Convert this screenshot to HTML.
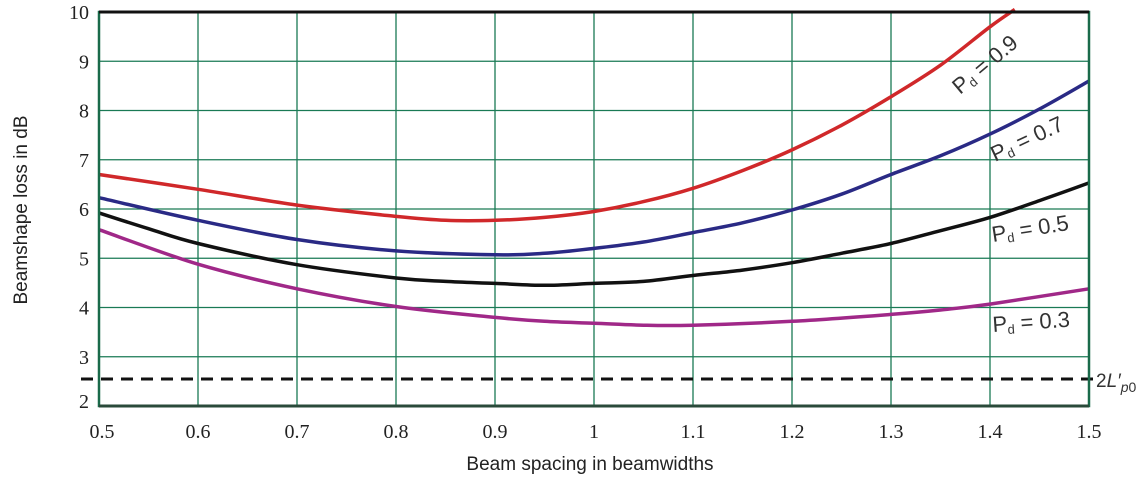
<!DOCTYPE html>
<html><head><meta charset="utf-8"><style>
html,body{margin:0;padding:0;background:#fff;width:1146px;height:478px;overflow:hidden}
</style></head><body>
<svg id="s" width="1146" height="478" xmlns="http://www.w3.org/2000/svg" font-family="Liberation Sans, sans-serif">
<g id="grid" stroke="#1a7a55" stroke-width="1.3"></g>
<line x1="81" y1="379" x2="1094" y2="379" stroke="#111" stroke-width="3" stroke-dasharray="12,8"/>
<g id="curves" fill="none" stroke-width="3.5" stroke-linejoin="round"></g>
<rect x="99" y="12" width="990" height="394" fill="none" stroke="#1a6a4a" stroke-width="2.5"/>
<line x1="99" y1="12" x2="1089" y2="12" stroke="#111" stroke-width="3"/>
<line x1="99" y1="406" x2="1089" y2="406" stroke="#2a4a3a" stroke-width="3"/>
<g id="ticks" font-family="Liberation Serif, serif" font-size="20" fill="#222"></g>
<g font-size="22" fill="#333">
<text transform="translate(960,95) rotate(-40)">P<tspan font-size="13" dy="3">d</tspan><tspan dy="-3"> = 0.9</tspan></text>
<text transform="translate(995,162) rotate(-25)">P<tspan font-size="13" dy="3">d</tspan><tspan dy="-3"> = 0.7</tspan></text>
<text transform="translate(993,242) rotate(-9)">P<tspan font-size="13" dy="3">d</tspan><tspan dy="-3"> = 0.5</tspan></text>
<text transform="translate(993,332) rotate(-4)">P<tspan font-size="13" dy="3">d</tspan><tspan dy="-3"> = 0.3</tspan></text>
<text x="1096" y="387" font-size="19">2<tspan font-style="italic">L′</tspan><tspan font-size="14" dy="5" font-style="italic">p</tspan><tspan font-size="14">0</tspan></text>
</g>
<text x="590" y="470" font-size="19" fill="#222" text-anchor="middle">Beam spacing in beamwidths</text>
<text transform="translate(27,210) rotate(-90)" font-size="19" fill="#222" text-anchor="middle">Beamshape loss in dB</text>
</svg>
<script>
var X=function(v){return 99+(v-0.5)*990},Y=function(v){return 12+(10-v)*49.25};
var ns="http://www.w3.org/2000/svg",g=document.getElementById('grid'),t=document.getElementById('ticks'),c=document.getElementById('curves');
function el(p,n,a,txt){var e=document.createElementNS(ns,n);for(var k in a)e.setAttribute(k,a[k]);if(txt)e.textContent=txt;p.appendChild(e);}
for(var i=0;i<=10;i++){var x=X(0.5+i/10);el(g,'line',{x1:x,y1:12,x2:x,y2:406});el(t,'text',{x:x+(i==0?3:0),y:438,'text-anchor':'middle'},(i==5?'1':i==10?'1.5':(0.5+i/10).toFixed(1)));}
for(var v=2;v<=10;v++){var y=Y(v);el(g,'line',{x1:99,y1:y,x2:1089,y2:y});el(t,'text',{x:89,y:y+(v==2?2:7),'text-anchor':'end'},String(v));}
var data={
'#d0282a':[[0.5,6.7],[0.6,6.4],[0.7,6.08],[0.8,5.85],[0.85,5.77],[0.9,5.77],[0.95,5.83],[1.0,5.95],[1.05,6.15],[1.1,6.42],[1.15,6.78],[1.2,7.2],[1.25,7.7],[1.3,8.28],[1.35,8.92],[1.4,9.7],[1.425,10.05]],
'#2a2a85':[[0.5,6.23],[0.6,5.77],[0.7,5.38],[0.8,5.15],[0.9,5.07],[0.95,5.1],[1.0,5.2],[1.05,5.33],[1.1,5.52],[1.15,5.72],[1.2,5.98],[1.25,6.3],[1.3,6.7],[1.35,7.08],[1.4,7.52],[1.45,8.03],[1.5,8.6]],
'#111111':[[0.5,5.92],[0.55,5.6],[0.6,5.3],[0.7,4.87],[0.8,4.6],[0.85,4.53],[0.9,4.49],[0.95,4.45],[1.0,4.49],[1.05,4.53],[1.1,4.65],[1.15,4.76],[1.2,4.91],[1.25,5.1],[1.3,5.3],[1.35,5.56],[1.4,5.83],[1.45,6.17],[1.5,6.53]],
'#a02888':[[0.5,5.58],[0.6,4.88],[0.7,4.38],[0.8,4.02],[0.9,3.8],[0.95,3.72],[1.0,3.68],[1.05,3.64],[1.1,3.64],[1.2,3.72],[1.3,3.86],[1.35,3.95],[1.4,4.07],[1.5,4.38]]};
for(var col in data){
 var P=data[col].map(function(p){return [X(p[0]),Y(p[1])]});
 var d='M'+P[0][0].toFixed(1)+','+P[0][1].toFixed(1);
 for(var i=0;i<P.length-1;i++){
  var p0=P[i-1]||P[i],p1=P[i],p2=P[i+1],p3=P[i+2]||P[i+1];
  var c1=[p1[0]+(p2[0]-p0[0])/6,p1[1]+(p2[1]-p0[1])/6],c2=[p2[0]-(p3[0]-p1[0])/6,p2[1]-(p3[1]-p1[1])/6];
  d+='C'+c1[0].toFixed(1)+','+c1[1].toFixed(1)+' '+c2[0].toFixed(1)+','+c2[1].toFixed(1)+' '+p2[0].toFixed(1)+','+p2[1].toFixed(1);
 }
 el(c,'path',{d:d,stroke:col});
}
</script>
</body></html>
